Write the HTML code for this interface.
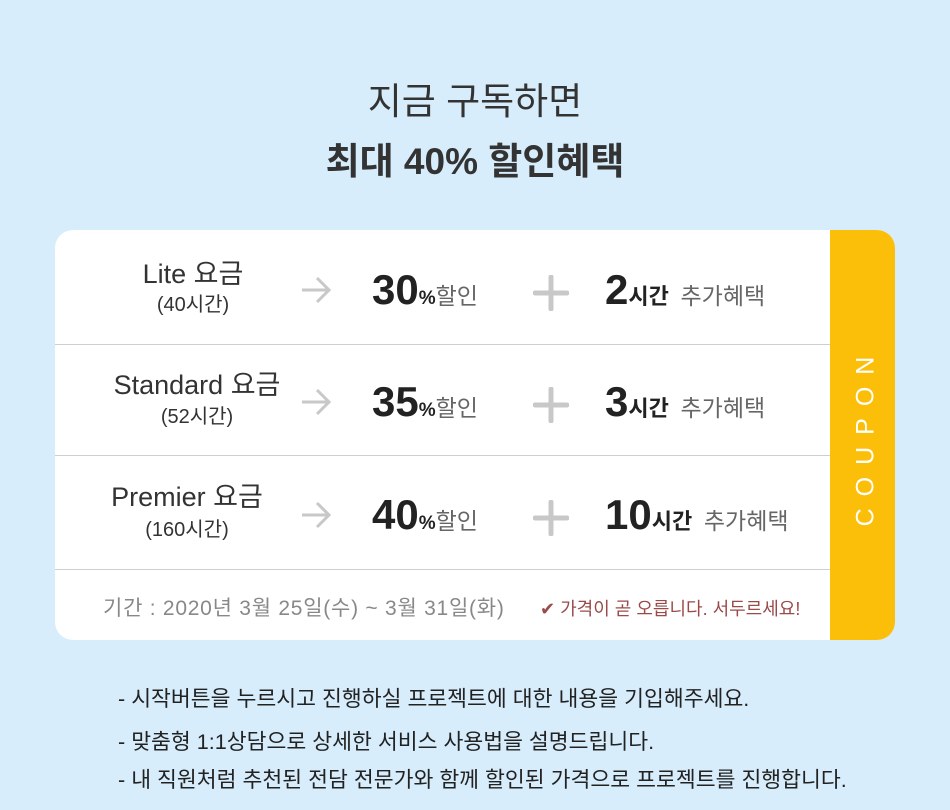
<!DOCTYPE html>
<html><head><meta charset="utf-8"><style>
*{margin:0;padding:0;box-sizing:border-box}
body{width:950px;height:810px;background:#d7edfb;font-family:"Liberation Sans","Noto Sans CJK KR",sans-serif;position:relative;overflow:hidden;color:#333}
.abs{position:absolute;white-space:nowrap}
.t1{left:0;width:950px;text-align:center;font-size:37px;color:#333;line-height:40px}
.card{position:absolute;left:55px;top:230px;width:840px;height:410px;background:#fff;border-radius:18px;overflow:hidden}
.strip{position:absolute;left:775px;top:0;width:65px;height:410px;background:#fbbf0a}
.coupon{position:absolute;left:775px;top:0;width:65px;height:410px;display:flex;align-items:center;justify-content:center}
.coupon span{transform:rotate(-90deg);color:#fff;font-size:25px;letter-spacing:12px;white-space:nowrap;margin-left:6px}
.div{position:absolute;left:0;width:775px;height:1px;background:#cfcfcf}
.lab{width:270px;text-align:center;font-size:27px;color:#333;line-height:30px}
.sub{width:270px;text-align:center;font-size:20px;color:#333;line-height:22px}
.num{font-size:42px;font-weight:bold;color:#222;line-height:46px}
.num small{font-size:19px;font-weight:bold}
.num em{font-style:normal;font-size:23px;font-weight:normal;color:#666}
.hr small{font-size:22px}
.note{left:118px;font-size:21.6px;color:#222;line-height:26px}
</style></head><body>
<div class="abs t1" style="top:82px">지금 구독하면</div>
<div class="abs t1" style="top:142px;font-weight:bold">최대 40% 할인혜택</div>
<div class="card">
<div class="strip"></div>
<div class="coupon"><span>COUPON</span></div>
<div class="div" style="top:114px"></div>
<div class="div" style="top:225px"></div>
<div class="div" style="top:339px"></div>

<div class="abs lab" style="left:3px;top:29px">Lite 요금</div>
<div class="abs sub" style="left:3px;top:64px">(40시간)</div>
<svg class="abs" style="left:245px;top:45px" width="32" height="30"><path d="M2 15H29M17 3L29 15L17 27" stroke="#c8c8c8" stroke-width="3" fill="none"/></svg>
<div class="abs num" style="left:317px;top:37px">30<small>%</small><em>할인</em></div>
<svg class="abs" style="left:478px;top:45px" width="36" height="36"><path d="M18 2V34M2 18H34" stroke="#c8c8c8" stroke-width="5" stroke-linecap="round"/></svg>
<div class="abs num hr" style="left:550px;top:37px">2<small>시간</small> <em>추가혜택</em></div>

<div class="abs lab" style="left:7px;top:140px">Standard 요금</div>
<div class="abs sub" style="left:7px;top:176px">(52시간)</div>
<svg class="abs" style="left:245px;top:157px" width="32" height="30"><path d="M2 15H29M17 3L29 15L17 27" stroke="#c8c8c8" stroke-width="3" fill="none"/></svg>
<div class="abs num" style="left:317px;top:149px">35<small>%</small><em>할인</em></div>
<svg class="abs" style="left:478px;top:157px" width="36" height="36"><path d="M18 2V34M2 18H34" stroke="#c8c8c8" stroke-width="5" stroke-linecap="round"/></svg>
<div class="abs num hr" style="left:550px;top:149px">3<small>시간</small> <em>추가혜택</em></div>

<div class="abs lab" style="left:-3px;top:252px">Premier 요금</div>
<div class="abs sub" style="left:-3px;top:289px">(160시간)</div>
<svg class="abs" style="left:245px;top:270px" width="32" height="30"><path d="M2 15H29M17 3L29 15L17 27" stroke="#c8c8c8" stroke-width="3" fill="none"/></svg>
<div class="abs num" style="left:317px;top:262px">40<small>%</small><em>할인</em></div>
<svg class="abs" style="left:478px;top:270px" width="36" height="36"><path d="M18 2V34M2 18H34" stroke="#c8c8c8" stroke-width="5" stroke-linecap="round"/></svg>
<div class="abs num hr" style="left:550px;top:262px">10<small>시간</small> <em>추가혜택</em></div>

<div class="abs" style="left:48px;top:362px;font-size:21px;letter-spacing:0.75px;color:#888">기간 : 2020년 3월 25일(수) ~ 3월 31일(화)</div>
<div class="abs" style="left:485px;top:365px;font-size:18px;color:#9b4a4a">✔ 가격이 곧 오릅니다. 서두르세요!</div>
</div>
<div class="abs note" style="top:686px">- 시작버튼을 누르시고 진행하실 프로젝트에 대한 내용을 기입해주세요.</div>
<div class="abs note" style="top:729px">- 맞춤형 1:1상담으로 상세한 서비스 사용법을 설명드립니다.</div>
<div class="abs note" style="top:767px">- 내 직원처럼 추천된 전담 전문가와 함께 할인된 가격으로 프로젝트를 진행합니다.</div>
</body></html>
